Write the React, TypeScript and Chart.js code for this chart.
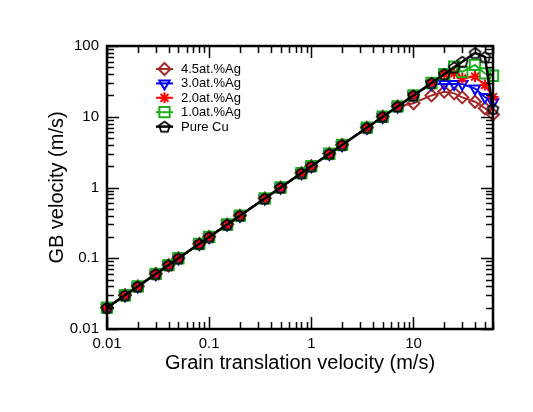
import React, { useEffect, useRef } from 'react';
import { Chart, registerables } from 'chart.js';
import { drawPoint } from 'chart.js/helpers';

Chart.register(...registerables);

// Grain translation velocity (m/s)
const X_VALUES = [0.01, 0.015, 0.02, 0.03, 0.04, 0.05, 0.08, 0.1, 0.15, 0.2, 0.35, 0.5, 0.8, 1, 1.5, 2, 3.5, 5, 7, 10, 15, 20, 25, 30, 40, 50, 60];

// GB velocity (m/s)
const AG45 = [0.02, 0.03, 0.04, 0.06, 0.08, 0.1, 0.16, 0.2, 0.3, 0.4, 0.7, 1, 1.6, 2, 3, 4, 7, 10, 14, 15.5, 20, 22.6, 21.4, 18.8, 16.3, 13.2, 10.8];
const AG30 = [0.02, 0.03, 0.04, 0.06, 0.08, 0.1, 0.16, 0.2, 0.3, 0.4, 0.7, 1, 1.6, 2, 3, 4, 7, 10, 14, 20, 29, 29, 29, 29, 25, 19, 16];
const AG20 = [0.02, 0.03, 0.04, 0.06, 0.08, 0.1, 0.16, 0.2, 0.3, 0.4, 0.7, 1, 1.6, 2, 3, 4, 7, 10, 14, 20, 30, 40, 41, 35, 37, 28, 19];
const AG10 = [0.02, 0.03, 0.04, 0.06, 0.08, 0.1, 0.16, 0.2, 0.3, 0.4, 0.7, 1, 1.6, 2, 3, 4, 7, 10, 14, 20, 30, 40, 51, 43, 54, 41, 38];
const PURE_CU = [0.02, 0.03, 0.04, 0.06, 0.08, 0.1, 0.16, 0.2, 0.3, 0.4, 0.7, 1, 1.6, 2, 3, 4, 7, 10, 14, 20, 30, 40, 50, 60, 80, 70, 13];

const SERIES_LABELS = ['4.5at.%Ag', '3.0at.%Ag', '2.0at.%Ag', '1.0at.%Ag', 'Pure Cu'];

const X_TICKS = [0.01, 0.1, 1, 10];
const Y_TICKS = [0.01, 0.1, 1, 10, 100];
const X_MIN = 0.01;
const X_MAX = 60;
const Y_MIN = 0.01;
const Y_MAX = 100;

const FONT = '"Liberation Sans", Arial, Helvetica, sans-serif';

function makePentagon(color: string, r: number, lw: number): HTMLCanvasElement {
  const size = Math.ceil(2 * r + 2 * lw + 2);
  const c = document.createElement('canvas');
  c.width = size;
  c.height = size;
  const ctx = c.getContext('2d')!;
  const cx = size / 2;
  const cy = size / 2 + r * 0.1;
  ctx.beginPath();
  for (let i = 0; i < 5; i++) {
    const a = -Math.PI / 2 + (i * 2 * Math.PI) / 5;
    const px = cx + r * Math.cos(a);
    const py = cy + r * Math.sin(a);
    if (i === 0) ctx.moveTo(px, py);
    else ctx.lineTo(px, py);
  }
  ctx.closePath();
  ctx.strokeStyle = color;
  ctx.lineWidth = lw;
  ctx.stroke();
  return c;
}

function logMarks(min: number, max: number) {
  const out: { v: number; major: boolean }[] = [];
  const e0 = Math.floor(Math.log10(min));
  const e1 = Math.ceil(Math.log10(max));
  for (let e = e0; e <= e1; e++) {
    for (let m = 1; m < 10; m++) {
      const v = m * Math.pow(10, e);
      if (v >= min * 0.9999 && v <= max * 1.0001) out.push({ v, major: m === 1 });
    }
  }
  return out;
}

const frameTicksPlugin = {
  id: 'frameTicks',
  afterDatasetsDraw(chart: any) {
    const { ctx, chartArea } = chart;
    const xs = chart.scales.x;
    const ys = chart.scales.y;
    const { left, right, top, bottom } = chartArea;
    const MAJOR = 12;
    const MINOR = 7;
    ctx.save();
    ctx.strokeStyle = '#000';
    ctx.lineWidth = 1.5;
    ctx.beginPath();
    for (const t of logMarks(xs.min, xs.max)) {
      const px = Math.round(xs.getPixelForValue(t.v)) + 0.5;
      const len = t.major ? MAJOR : MINOR;
      ctx.moveTo(px, bottom);
      ctx.lineTo(px, bottom - len);
      ctx.moveTo(px, top);
      ctx.lineTo(px, top + len);
    }
    for (const t of logMarks(ys.min, ys.max)) {
      const py = Math.round(ys.getPixelForValue(t.v)) + 0.5;
      const len = t.major ? MAJOR : MINOR;
      ctx.moveTo(left, py);
      ctx.lineTo(left + len, py);
      ctx.moveTo(right, py);
      ctx.lineTo(right - len, py);
    }
    ctx.stroke();
    ctx.lineWidth = 2.5;
    ctx.strokeRect(left, top, right - left, bottom - top);
    ctx.restore();
  },
};

const insideLegendPlugin = {
  id: 'insideLegend',
  afterDraw(chart: any) {
    const { ctx, chartArea } = chart;
    const datasets = chart.data.datasets;
    const x0 = chartArea.left + 49;
    const x1 = chartArea.left + 66;
    const xm = (x0 + x1) / 2;
    const xt = chartArea.left + 74;
    let y = chartArea.top + 23;
    ctx.save();
    ctx.font = '13px ' + FONT;
    ctx.textBaseline = 'middle';
    ctx.textAlign = 'left';
    for (const ds of datasets) {
      ctx.strokeStyle = ds.borderColor;
      ctx.lineWidth = ds.borderWidth;
      ctx.beginPath();
      ctx.moveTo(x0, y);
      ctx.lineTo(x1, y);
      ctx.stroke();
      ctx.fillStyle = 'rgba(0,0,0,0)';
      ctx.strokeStyle = ds.pointBorderColor;
      ctx.lineWidth = ds.pointBorderWidth;
      drawPoint(ctx, {
        pointStyle: ds.pointStyle,
        rotation: ds.pointRotation || 0,
        radius: ds.pointRadius,
        borderWidth: ds.pointBorderWidth,
      } as any, xm, y);
      ctx.fillStyle = '#000';
      ctx.fillText(ds.label, xt, y + 0.5);
      y += 14.4;
    }
    ctx.restore();
  },
};

function toPoints(ys: number[]) {
  return X_VALUES.map((x, i) => ({ x, y: ys[i] }));
}

export default function App() {
  const canvasRef = useRef<HTMLCanvasElement | null>(null);

  useEffect(() => {
    const canvas = canvasRef.current;
    if (!canvas) return;
    const pentagon = makePentagon('#000', 5.6, 1.7);
    const BROWN = 'rgb(165,42,42)';
    const BLUE = 'rgb(0,0,255)';
    const RED = 'rgb(255,0,0)';
    const GREEN = 'rgb(30,175,30)';
    const common = {
      showLine: true,
      fill: false,
      tension: 0,
      clip: false,
      pointBackgroundColor: 'rgba(0,0,0,0)',
    };
    const chart = new Chart(canvas, {
      type: 'scatter',
      data: {
        datasets: [
          {
            ...common,
            label: SERIES_LABELS[0],
            data: toPoints(AG45),
            borderColor: BROWN,
            borderWidth: 2,
            pointBorderColor: BROWN,
            pointBorderWidth: 2,
            pointStyle: 'rectRot',
            pointRadius: 6,
            order: 4,
          },
          {
            ...common,
            label: SERIES_LABELS[1],
            data: toPoints(AG30),
            borderColor: BLUE,
            borderWidth: 2,
            pointBorderColor: BLUE,
            pointBorderWidth: 2,
            pointStyle: 'triangle',
            pointRotation: 180,
            pointRadius: 6,
            order: 3,
          },
          {
            ...common,
            label: SERIES_LABELS[2],
            data: toPoints(AG20),
            borderColor: RED,
            borderWidth: 2,
            pointBorderColor: RED,
            pointBorderWidth: 2,
            pointStyle: 'star',
            pointRadius: 5.5,
            order: 2,
          },
          {
            ...common,
            label: SERIES_LABELS[3],
            data: toPoints(AG10),
            borderColor: GREEN,
            borderWidth: 2,
            pointBorderColor: GREEN,
            pointBorderWidth: 2,
            pointStyle: 'rect',
            pointRadius: 7.3,
            order: 1,
          },
          {
            ...common,
            label: SERIES_LABELS[4],
            data: toPoints(PURE_CU),
            borderColor: '#000',
            borderWidth: 2.5,
            pointBorderColor: '#000',
            pointBorderWidth: 1.7,
            pointStyle: pentagon as any,
            pointRadius: 5.6,
            order: 0,
          },
        ] as any,
      },
      options: {
        responsive: false,
        animation: false,
        devicePixelRatio: 1,
        layout: { padding: { top: 46, right: 40, left: 0, bottom: 0 } },
        plugins: {
          legend: { display: false },
          tooltip: { enabled: false },
          title: { display: false },
        },
        events: [],
        scales: {
          x: {
            type: 'logarithmic',
            min: X_MIN,
            max: X_MAX,
            afterBuildTicks: (scale: any) => {
              scale.ticks = X_TICKS.map((v) => ({ value: v }));
            },
            afterFit: (scale: any) => {
              scale.height = 83;
            },
            grid: { display: false, drawTicks: false },
            border: { display: false },
            ticks: {
              autoSkip: false,
              maxRotation: 0,
              padding: 6,
              color: '#000',
              font: { family: FONT, size: 15 },
              callback: (v: any) => String(v),
            },
            title: {
              display: true,
              text: 'Grain translation velocity (m/s)',
              color: '#000',
              font: { family: FONT, size: 20 },
              padding: { top: 0, bottom: 37 },
            },
          },
          y: {
            type: 'logarithmic',
            min: Y_MIN,
            max: Y_MAX,
            afterBuildTicks: (scale: any) => {
              scale.ticks = Y_TICKS.map((v) => ({ value: v }));
            },
            afterFit: (scale: any) => {
              scale.width = 107;
            },
            grid: { display: false, drawTicks: false },
            border: { display: false },
            ticks: {
              autoSkip: false,
              padding: 8,
              color: '#000',
              font: { family: FONT, size: 15 },
              callback: (v: any) => String(v),
            },
            title: {
              display: true,
              text: 'GB velocity (m/s)',
              color: '#000',
              font: { family: FONT, size: 20 },
              padding: { top: 45, bottom: 0 },
            },
          },
        },
      } as any,
      plugins: [frameTicksPlugin, insideLegendPlugin],
    });
    return () => {
      chart.destroy();
    };
  }, []);

  return (
    <div style={{ position: 'fixed', left: 0, top: 0, width: 533, height: 412, background: '#fff' }}>
      <canvas ref={canvasRef} width={533} height={412} style={{ display: 'block', width: 533, height: 412 }} />
    </div>
  );
}
